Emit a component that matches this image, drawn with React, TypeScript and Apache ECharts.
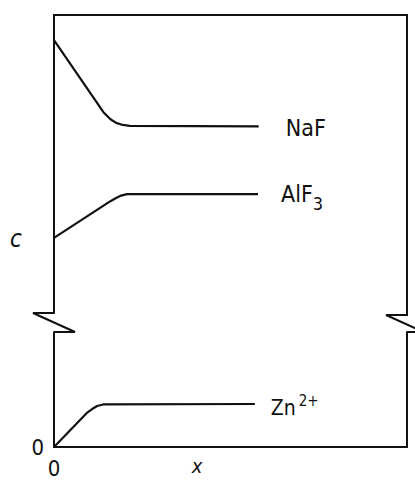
import React, { useEffect, useRef } from 'react';
import * as echarts from 'echarts';

const FONT = "'Liberation Sans Narrow', 'DejaVu Sans Condensed', 'Liberation Sans', sans-serif";
const INK = '#111111';

// x position (arbitrary units 0..100 across the frame)
const naFX = [0, 14, 16, 17.6, 19.5, 21.5, 58];
const naFY = [91.6, 67.4, 65, 63.8, 63.1, 62.8, 62.6];
const alF3X = [0, 16.1, 17.6, 19, 20.7, 57.8];
const alF3Y = [25.2, 37.6, 38.6, 39.4, 39.9, 39.9];
const znX = [0, 9.3, 10.8, 12.2, 13.9, 56.9];
const znY = [0, 29.6, 33, 35.7, 37, 37.4];

const xTickLabels = [0];
const yTickLabels = [0];
const X_MIN = 0;
const X_MAX = 100;
const UPPER_MIN = 0;
const UPPER_MAX = 100;
const LOWER_MIN = 0;
const LOWER_MAX = 100;

const zip = (xs: number[], ys: number[]) => xs.map((x, i) => [x, ys[i]]);

export default function App() {
  const ref = useRef<HTMLDivElement>(null);
  useEffect(() => {
    if (!ref.current) return;
    const chart = echarts.init(ref.current, undefined, { renderer: 'svg' });
    const axisLine = { show: true, onZero: false, lineStyle: { color: INK, width: 2 } };
    const hidden = {
      axisTick: { show: false },
      axisLabel: { show: false },
      splitLine: { show: false },
    };
    const lineStyle = { color: INK, width: 2.2 };
    const mainText = { fontSize: 23, fontFamily: FONT, color: INK };
    chart.setOption({
      animation: false,
      backgroundColor: '#ffffff',
      grid: [
        { left: 54, right: 8, top: 15, height: 298 },
        { left: 54, right: 8, top: 332, height: 115 },
      ],
      xAxis: [
        { type: 'value', gridIndex: 0, min: X_MIN, max: X_MAX, position: 'top', axisLine, ...hidden },
        {
          type: 'value', gridIndex: 1, min: X_MIN, max: X_MAX, interval: 100, position: 'bottom', axisLine,
          axisTick: { show: false }, splitLine: { show: false },
          axisLabel: {
            show: true, margin: 10, fontSize: 22, fontFamily: FONT, color: INK,
            formatter: (v: number) => (xTickLabels.includes(v) ? String(v) : ''),
          },
        },
      ],
      yAxis: [
        { type: 'value', gridIndex: 0, min: UPPER_MIN, max: UPPER_MAX, position: 'left', axisLine, ...hidden },
        { type: 'value', gridIndex: 0, min: UPPER_MIN, max: UPPER_MAX, position: 'right', axisLine, ...hidden },
        {
          type: 'value', gridIndex: 1, min: LOWER_MIN, max: LOWER_MAX, interval: 100, position: 'left', axisLine,
          axisTick: { show: false }, splitLine: { show: false },
          axisLabel: {
            show: true, margin: 10, fontSize: 22, fontFamily: FONT, color: INK, padding: [8, 0, 0, 0],
            formatter: (v: number) => (yTickLabels.includes(v) ? String(v) : ''),
          },
        },
        { type: 'value', gridIndex: 1, min: LOWER_MIN, max: LOWER_MAX, position: 'right', axisLine, ...hidden },
      ],
      series: [
        {
          type: 'line', name: 'NaF', xAxisIndex: 0, yAxisIndex: 0, data: zip(naFX, naFY),
          symbol: 'none', lineStyle,
          endLabel: {
            show: true, distance: 0, offset: [27, 2], formatter: '{m|NaF}',
            rich: { m: mainText },
          },
        },
        {
          type: 'line', name: 'AlF3', xAxisIndex: 0, yAxisIndex: 0, data: zip(alF3X, alF3Y),
          symbol: 'none', lineStyle,
          endLabel: {
            show: true, distance: 0, offset: [23, 0], formatter: '{m|AlF}{s|3}',
            rich: {
              m: mainText,
              s: { fontSize: 18, fontFamily: FONT, color: INK, padding: [18, 0, 0, 0] },
            },
          },
        },
        {
          type: 'line', name: 'Zn2+', xAxisIndex: 1, yAxisIndex: 2, data: zip(znX, znY),
          symbol: 'none', lineStyle,
          endLabel: {
            show: true, distance: 0, offset: [16, 4], formatter: '{m|Zn}{p|2+}',
            rich: {
              m: { fontSize: 21, fontFamily: FONT, color: INK },
              p: { fontSize: 15, fontFamily: FONT, color: INK, padding: [0, 0, 13, 3] },
            },
          },
        },
      ],
      graphic: [
        {
          type: 'polyline', shape: { points: [[54, 313], [33, 313], [75, 332], [54, 332]] },
          style: { stroke: INK, lineWidth: 2, fill: 'none', lineJoin: 'miter' },
        },
        {
          type: 'polyline', shape: { points: [[407, 313], [407, 315], [386, 315], [428, 334]] },
          style: { stroke: INK, lineWidth: 2, fill: 'none', lineJoin: 'miter' },
        },
        {
          type: 'line', shape: { x1: 407, y1: 332, x2: 420, y2: 332 },
          style: { stroke: INK, lineWidth: 2 },
        },
        {
          type: 'text', x: 16, y: 239,
          style: { text: 'c', fontSize: 24, fontStyle: 'italic', fontFamily: FONT, fill: INK, align: 'center', verticalAlign: 'middle' },
        },
        {
          type: 'text', x: 197, y: 466,
          style: { text: 'x', fontSize: 20, fontStyle: 'italic', fontFamily: FONT, fill: INK, align: 'center', verticalAlign: 'middle' },
        },
      ],
    });
    return () => chart.dispose();
  }, []);
  return <div ref={ref} style={{ position: 'fixed', left: 0, top: 0, width: 415, height: 480 }} />;
}
